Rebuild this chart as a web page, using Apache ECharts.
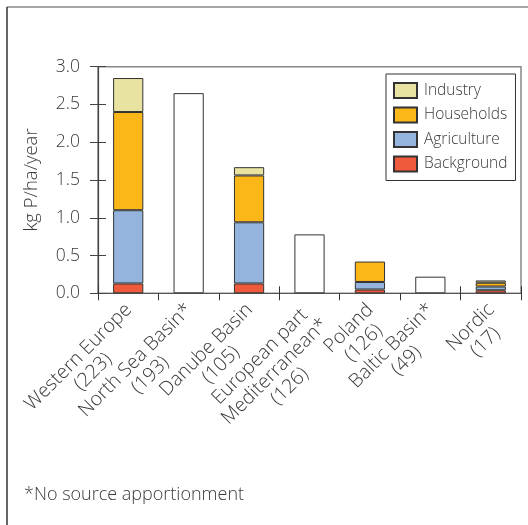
<!DOCTYPE html>
<html><head><meta charset="utf-8">
<script src="https://cdn.jsdelivr.net/npm/echarts@6/dist/echarts.min.js"></script>
<style>html,body{margin:0;padding:0;background:#fff}#c{width:528px;height:525px}</style>
</head><body><div id="c"></div>
<script>
const categories = ['Western Europe\n(223)', 'North Sea Basin*\n(193)', 'Danube Basin\n(105)', 'European part\nMediterranean*\n(126)', 'Poland\n(126)', 'Baltic Basin*\n(49)', 'Nordic\n(17)'];
const background = [0.13, null, 0.13, null, 0.05, null, 0.04];
const agriculture = [0.97, null, 0.81, null, 0.10, null, 0.05];
const households = [1.30, null, 0.62, null, 0.27, null, 0.05];
const industry = [0.45, null, 0.11, null, null, null, 0.03];
const noApportionment = [null, 2.65, null, 0.78, null, 0.22, null];
const yMin = 0, yMax = 3.0, yStep = 0.5;
const yName = 'kg P/ha/year';
const footnote = '*No source apportionment';

const FONT = '"Open Sans"';
const TXT = '#3a3a3a';
const W = 300;
const chart = echarts.init(document.getElementById('c'), null, {renderer: 'canvas'});
const barBase = {type: 'bar', stack: 'total', barWidth: '50%', xAxisIndex: 0, yAxisIndex: 0};
function seg(name, data, color) {
  return Object.assign({}, barBase, {name, data, itemStyle: {color, borderColor: '#333', borderWidth: 1}});
}
chart.setOption({
  animation: false,
  textStyle: {fontFamily: FONT},
  grid: {left: 98, top: 66.7, right: 7, bottom: 231.7, show: true, borderColor: '#888', borderWidth: 1.5, backgroundColor: 'transparent'},
  legend: {
    data: ['Industry', 'Households', 'Agriculture', 'Background'],
    orient: 'vertical', left: 386, top: 74, itemWidth: 23, itemHeight: 15, itemGap: 7.5,
    padding: [8, 8, 8, 7], borderColor: '#333', borderWidth: 1, backgroundColor: '#fff',
    icon: 'rect', textStyle: {fontSize: 15.5, color: TXT, fontFamily: FONT, fontWeight: W, padding: [0, 0, 0, 2]}
  },
  xAxis: [{
    type: 'category', data: categories, position: 'bottom',
    axisLine: {lineStyle: {color: '#555', width: 1.2}},
    axisTick: {show: true, alignWithLabel: false, length: 7, lineStyle: {color: '#333'}},
    axisLabel: {
      interval: 0, rotate: 45, margin: -1, verticalAlign: 'top', color: TXT, fontSize: 19.5, fontFamily: FONT, fontWeight: W,
      padding: [0, 10, 0, 0],
      formatter: v => v.split('\n').map(s => '{c|' + s + '}').join('\n'),
      rich: {c: {align: 'center', fontSize: 19.5, fontFamily: FONT, fontWeight: W, color: TXT, lineHeight: 21}}
    }
  }, {
    type: 'category', data: categories, position: 'bottom',
    axisLine: {show: false}, axisLabel: {show: false},
    axisTick: {show: true, inside: true, alignWithLabel: false, length: 7, lineStyle: {color: '#333'}}
  }],
  yAxis: [{
    type: 'value', min: yMin, max: yMax, interval: yStep, position: 'left',
    axisLine: {show: true, lineStyle: {color: '#444', width: 1.2}},
    axisTick: {show: true, length: 8, lineStyle: {color: '#444'}},
    splitLine: {show: false},
    axisLabel: {margin: 18, color: TXT, fontSize: 17.5, fontFamily: FONT, fontWeight: W, formatter: v => v.toFixed(1)},
    name: yName, nameLocation: 'middle', nameGap: 57,
    nameTextStyle: {fontSize: 18.5, color: TXT, fontFamily: FONT, fontWeight: W}
  }, {
    type: 'value', min: yMin, max: yMax, interval: yStep, position: 'left',
    axisLine: {show: false}, axisLabel: {show: false}, splitLine: {show: false},
    axisTick: {show: true, inside: true, length: 8, lineStyle: {color: '#444'}}
  }],
  series: [
    seg('Background', background, '#f05a3c'),
    seg('Agriculture', agriculture, '#95b4dd'),
    seg('Households', households, '#fbb617'),
    seg('Industry', industry, '#e8e3a0'),
    Object.assign({}, barBase, {name: 'No apportionment', data: noApportionment, itemStyle: {color: '#fff', borderColor: '#333', borderWidth: 1}})
  ],
  graphic: [
    {type: 'line', shape: {x1: 7, y1: 7, x2: 528, y2: 7}, style: {stroke: '#888', lineWidth: 1.5}, silent: true},
    {type: 'line', shape: {x1: 7, y1: 7, x2: 7, y2: 525}, style: {stroke: '#333', lineWidth: 1.5}, silent: true},
    {type: 'text', left: 24, top: 486, style: {text: footnote, fontSize: 18, fontFamily: FONT, fontWeight: W, fill: TXT}}
  ]
});
</script></body></html>
